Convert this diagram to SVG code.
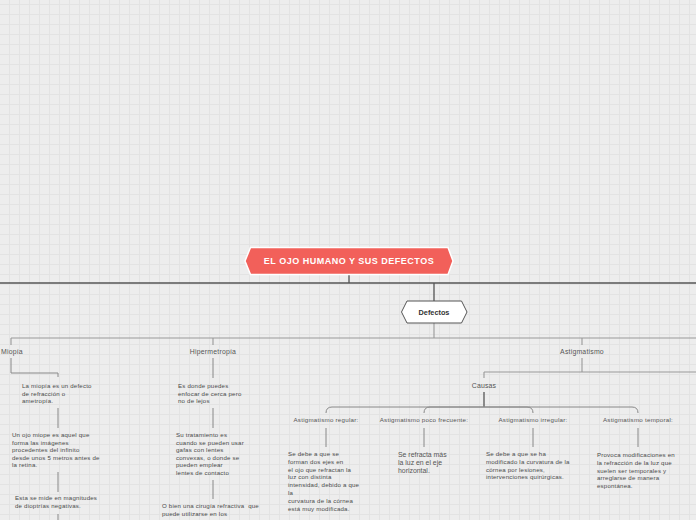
<svg xmlns="http://www.w3.org/2000/svg" width="696" height="520" viewBox="0 0 696 520">
<defs>
<pattern id="grid" x="0" y="0" width="10" height="10" patternUnits="userSpaceOnUse">
<rect width="10" height="10" fill="#ededed"/>
<path d="M9.5 0V10M0 4.5H10" stroke="#e3e3e3" stroke-width="1" fill="none"/>
</pattern>
<style>
.lab{font-family:"Liberation Sans",Arial,sans-serif;font-size:6.9px;letter-spacing:0.2px;fill:#555}
.sub{font-family:"Liberation Sans",Arial,sans-serif;font-size:6.2px;letter-spacing:0.25px;fill:#555}
.body{font-family:"Liberation Sans",Arial,sans-serif;font-size:6.1px;letter-spacing:0.2px;fill:#4a4a4a}
.big{font-family:"Liberation Sans",Arial,sans-serif;font-size:6.9px;fill:#555}
.c1{fill:none;stroke:#555;stroke-width:1.3}
.c2{fill:none;stroke:#999;stroke-width:1.1}
.c3{fill:none;stroke:#888;stroke-width:1}
</style>
</defs>
<rect width="696" height="520" fill="url(#grid)"/>
<g id="connectors">
<path class="c1" d="M349 274V283M0 283H696M434 283V301"/>
<path class="c2" d="M434 323V338M11 338H696M11 338V345M213 338V345M582 338V345"/>
<path class="c3" d="M11 358V373H58V377M58 408V428M58 472V492M58 514V520"/>
<path class="c3" d="M213 358V378M213 408V428M213 480V499"/>
<path class="c2" d="M582 358V372M484 372H696M484 372V378"/>
<path class="c1" d="M484 392V407"/>
<path class="c3" d="M484 407H332Q326 407 326 413M484 407H430Q424 407 424 413M484 407H527Q533 407 533 413M484 407H632Q638 407 638 413"/>
<path class="c3" d="M326 428V447M424 428V447M533 428V447M638 428V447"/>
</g>
<g id="title">
<polygon points="245,261 250.5,247.5 448,247.5 453,261 448,274.5 250.5,274.5" fill="#f2605a" stroke="#fff" stroke-width="1.5"/>
<text x="349" y="264.3" text-anchor="middle" font-family="Liberation Sans,Arial,sans-serif" font-size="9" font-weight="bold" letter-spacing="0.5" fill="#fff">EL OJO HUMANO Y SUS DEFECTOS</text>
</g>
<g id="defectos">
<polygon points="401.5,312 407,301 461.5,301 467,312 461.5,323 407,323" fill="#fff" stroke="#555" stroke-width="1"/>
<text x="434" y="314.6" text-anchor="middle" font-family="Liberation Sans,Arial,sans-serif" font-size="7.3" font-weight="bold" fill="#333">Defectos</text>
</g>
<g id="miopia">
<text class="lab" x="1" y="354.3">Miopía</text>
</g>
<g id="miopia-1">
<text class="body" x="22" y="388"><tspan x="22">La miopía es un defecto</tspan><tspan x="22" dy="7.6">de refracción o</tspan><tspan x="22" dy="7.6">ametropía.</tspan></text>
</g>
<g id="miopia-2">
<text class="body" x="12" y="437"><tspan x="12">Un ojo miope es aquel que</tspan><tspan x="12" dy="7.6">forma las imágenes</tspan><tspan x="12" dy="7.6">procedentes del infinito</tspan><tspan x="12" dy="7.6">desde unos 5 metros antes de</tspan><tspan x="12" dy="7.6">la retina.</tspan></text>
</g>
<g id="miopia-3">
<text class="body" x="15" y="500"><tspan x="15">Esta se mide en magnitudes</tspan><tspan x="15" dy="7.6">de dioptrías negativas.</tspan></text>
</g>
<g id="hipermetropia">
<text class="lab" x="213" y="354.3" text-anchor="middle">Hipermetropía</text>
</g>
<g id="hiper-1">
<text class="body" x="178" y="388"><tspan x="178">Es donde puedes</tspan><tspan x="178" dy="7.6">enfocar de cerca pero</tspan><tspan x="178" dy="7.6">no de lejos</tspan></text>
</g>
<g id="hiper-2">
<text class="body" x="176" y="437"><tspan x="176">Su tratamiento es</tspan><tspan x="176" dy="7.6">cuando se pueden usar</tspan><tspan x="176" dy="7.6">gafas con lentes</tspan><tspan x="176" dy="7.6">convexas, o donde se</tspan><tspan x="176" dy="7.6">pueden emplear</tspan><tspan x="176" dy="7.6">lentes de contacto</tspan></text>
</g>
<g id="hiper-3">
<text class="body" x="162" y="508"><tspan x="162" xml:space="preserve">O bien una cirugía refractiva  que</tspan><tspan x="162" dy="7.6">puede utilizarse en los</tspan></text>
</g>
<g id="astigmatismo">
<text class="lab" x="582" y="354.3" text-anchor="middle">Astigmatismo</text>
</g>
<g id="causas">
<text class="lab" x="484" y="388" text-anchor="middle">Causas</text>
</g>
<g id="regular">
<text class="sub" x="326" y="422" text-anchor="middle">Astigmatismo regular:</text>
<text class="body" x="288" y="456"><tspan x="288">Se debe a que se</tspan><tspan x="288" dy="7.8">forman dos ejes en</tspan><tspan x="288" dy="7.8">el ojo que refractan la</tspan><tspan x="288" dy="7.8">luz con distinta</tspan><tspan x="288" dy="7.8">intensidad, debido a que</tspan><tspan x="288" dy="7.8">la</tspan><tspan x="288" dy="7.8">curvatura de la córnea</tspan><tspan x="288" dy="7.8">está muy modificada.</tspan></text>
</g>
<g id="poco-frecuente">
<text class="sub" x="424" y="422" text-anchor="middle">Astigmatismo poco frecuente:</text>
<text class="big" x="398" y="457"><tspan x="398">Se refracta más</tspan><tspan x="398" dy="8">la luz en el eje</tspan><tspan x="398" dy="8">horizontal.</tspan></text>
</g>
<g id="irregular">
<text class="sub" x="533" y="422" text-anchor="middle">Astigmatismo irregular:</text>
<text class="body" x="486" y="456"><tspan x="486">Se debe a que se ha</tspan><tspan x="486" dy="7.8">modificado la curvatura de la</tspan><tspan x="486" dy="7.8">córnea por lesiones,</tspan><tspan x="486" dy="7.8">intervenciones quirúrgicas.</tspan></text>
</g>
<g id="temporal">
<text class="sub" x="638" y="422" text-anchor="middle">Astigmatismo temporal:</text>
<text class="body" x="597" y="457"><tspan x="597">Provoca modificaciones en</tspan><tspan x="597" dy="7.8">la refracción de la luz que</tspan><tspan x="597" dy="7.8">suelen ser temporales y</tspan><tspan x="597" dy="7.8">arreglarse de manera</tspan><tspan x="597" dy="7.8">espontánea.</tspan></text>
</g>
</svg>
